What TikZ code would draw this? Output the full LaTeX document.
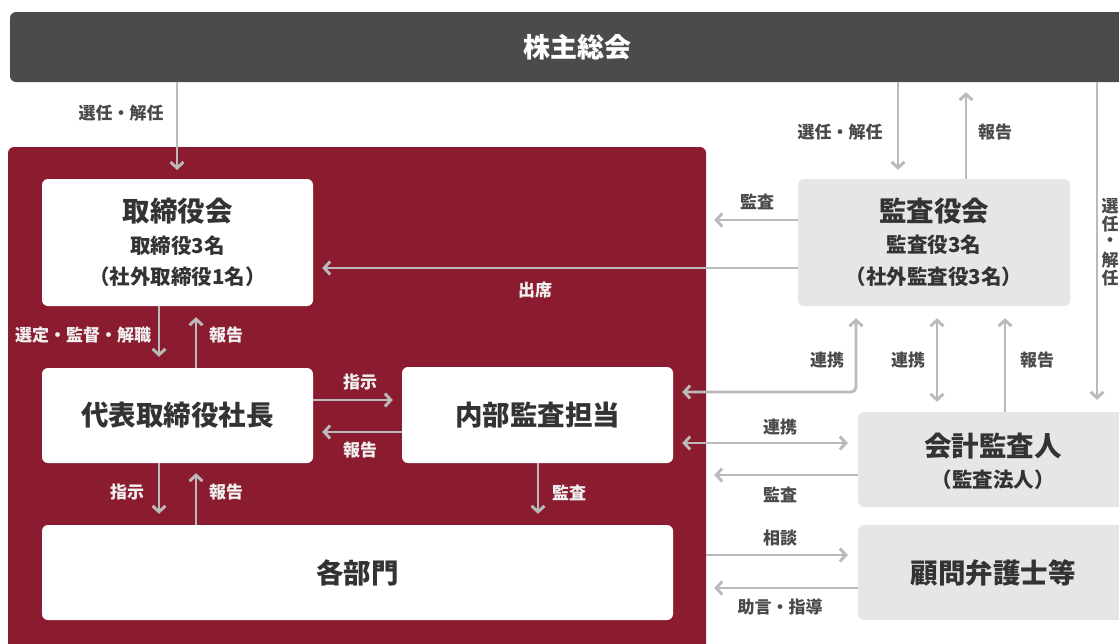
\documentclass[tikz,border=0pt]{standalone}
\usepackage{fontspec}
\setmainfont{Noto Sans CJK JP}
\usetikzlibrary{arrows.meta,calc}
\definecolor{panelred}{HTML}{8B1C30}
\definecolor{bardark}{HTML}{4B4B4B}
\definecolor{boxgray}{HTML}{E6E6E6}
\definecolor{arrowgray}{HTML}{BABABA}
\definecolor{txtdark}{HTML}{333333}
\definecolor{lbldark}{HTML}{4A4A4A}
\newcommand\dgTitle{\fontsize{27.5}{31}\selectfont\bfseries}
\newcommand\dgSub{\fontsize{20.5}{24}\selectfont\bfseries}
\newcommand\dgLbl{\fontsize{17}{20}\selectfont\bfseries}
\begin{document}
\begin{tikzpicture}[x=1pt,y=-1pt,
  whitebox/.style={draw=none,fill=white,rounded corners=6pt,inner sep=0pt,text=txtdark,font=\dgTitle},
  graybox/.style={draw=none,fill=boxgray,rounded corners=6pt,inner sep=0pt,text=txtdark,font=\dgTitle},
  subtxt/.style={inner sep=0pt,text=txtdark,font=\dgSub},
  ttltxt/.style={inner sep=0pt,text=txtdark,font=\dgTitle},
  lbl/.style={inner sep=0pt,text=lbldark,font=\dgLbl},
  wlbl/.style={inner sep=0pt,text=white!94!black,font=\dgLbl},
  arr/.style={draw=arrowgray,line width=2.9pt,-{Straight Barb[length=6pt,width=13pt,line width=2.9pt]}},
  darr/.style={draw=arrowgray,line width=2.9pt,{Straight Barb[length=6pt,width=13pt,line width=2.9pt]}-{Straight Barb[length=6pt,width=13pt,line width=2.9pt]}},
]
\useasboundingbox (0,0) rectangle (1119,643);
\clip (0,0) rectangle (1119,643);
\fill[white] (0,0) rectangle (1119,643);

% top bar
\node[fill=bardark,rounded corners=6pt,inner sep=0pt,minimum width=1134pt,minimum height=70pt,text=white,font=\fontsize{27}{30}\selectfont\bfseries] (bar) at (577,47) {株主総会};

% red panel
\node[fill=panelred,rounded corners=6pt,inner sep=0pt,minimum width=698pt,minimum height=533pt] (panel) at (357,413.5) {};

% boxes
\node[whitebox,minimum width=271pt,minimum height=127pt] (board) at (177.5,242.5) {};
\node[ttltxt] (boardT) at (177.5,211) {取締役会};
\node[subtxt] (boardS1) at (177.5,246) {取締役3名};
\node[subtxt] (boardS2) at (177.5,277) {（社外取締役1名）};

\node[whitebox,minimum width=271pt,minimum height=95pt] (ceo) at (177.5,415.5) {代表取締役社長};
\node[whitebox,minimum width=271pt,minimum height=96pt] (audit) at (537.5,415) {内部監査担当};
\node[whitebox,minimum width=631pt,minimum height=95pt] (depts) at (357.5,572.5) {各部門};

\node[graybox,minimum width=272pt,minimum height=127pt] (kansa) at (934,242.5) {};
\node[ttltxt] (kansaT) at (934,211) {監査役会};
\node[subtxt] (kansaS1) at (934,245) {監査役3名};
\node[subtxt] (kansaS2) at (934,277) {（社外監査役3名）};

\node[graybox,minimum width=270pt,minimum height=95pt] (kaikei) at (993,459.5) {};
\node[ttltxt] (kaikeiT) at (993,446) {会計監査人};
\node[subtxt] (kaikeiS) at (993,480) {（監査法人）};

\node[graybox,minimum width=270pt,minimum height=95pt] (komon) at (993,572.5) {顧問弁護士等};

% named coordinates
\coordinate (t1) at (177,170);
\coordinate (k1) at ([xshift=-36pt,yshift=9pt]kansa.north);
\coordinate (k2) at ([xshift=32pt]kansa.north);
\coordinate (k3) at (1097,0);

% arrows from / to the general meeting
\draw[arr] (bar.south -| t1) -- (t1);
\draw[arr] (bar.south -| k1) -- (k1);
\draw[arr] (k2) -- ($(bar.south -| k2)+(0,10)$);
\draw[arr] (bar.south -| k3) -- ($(kaikei.north -| k3)+(0,-12)$);

% kansa to the left
\draw[arr] ($(kansa.west)+(0,-22.5)$) coordinate (s5) -- ($(panel.east |- s5)+(8,0)$);
\draw[arr] ($(kansa.west)+(0,25.5)$) coordinate (s6) -- ($(board.east |- s6)+(9,0)$);

% board <-> ceo
\draw[arr] ([xshift=-18.5pt]board.south) -- ([xshift=-18.5pt,yshift=11pt]ceo.north);
\draw[arr] ([xshift=18.5pt]ceo.north) -- ([xshift=18.5pt,yshift=-11pt]board.south);

% ceo <-> audit
\draw[arr] ([yshift=15.5pt]ceo.east) -- ([xshift=-9pt,yshift=15pt]audit.west);
\draw[arr] ([yshift=-17pt]audit.west) -- ([xshift=9pt,yshift=-16.5pt]ceo.east);

% ceo <-> depts, audit -> depts
\draw[arr] ([xshift=-18.5pt]ceo.south) -- ([xshift=-198.5pt,yshift=11pt]depts.north);
\draw[arr] ([xshift=-161.5pt]depts.north) -- ([xshift=18.5pt,yshift=-10pt]ceo.south);
\draw[arr] ([xshift=0.5pt]audit.south) -- ([xshift=180.5pt,yshift=11pt]depts.north);

% cooperation links
\draw[darr,rounded corners=5pt] ([xshift=9pt,yshift=23pt]audit.east) -| ([xshift=-78pt,yshift=-12pt]kansa.south);
\draw[darr] ([xshift=3pt,yshift=-12pt]kansa.south) -- ([xshift=-56pt,yshift=10pt]kaikei.north);
\draw[arr] ([xshift=12pt]kaikei.north) -- ([xshift=71pt,yshift=-12pt]kansa.south);
\draw[darr] ([xshift=9pt,yshift=-28pt]audit.east) -- ([xshift=-10pt,yshift=16.5pt]kaikei.west);
\draw[arr] ([yshift=-15.5pt]kaikei.west) coordinate (s18) -- ($(panel.east |- s18)+(8,0)$);
\coordinate (c19) at ([xshift=-10pt,yshift=17.5pt]komon.west);
\draw[arr] (panel.east |- c19) -- (c19);
\draw[arr] ([yshift=-15.5pt]komon.west) coordinate (s20) -- ($(panel.east |- s20)+(8,0)$);

% labels
\node[lbl] (l1) at (121,113) {選任・解任};
\node[lbl] (l2) at (840,132) {選任・解任};
\node[lbl] (l3) at (995,132) {報告};
\node[lbl] (l4) at (757,202) {監査};
\node[wlbl] (l5) at (535,290) {出席};
\node[wlbl] (l6) at (83,335) {選定・監督・解職};
\node[wlbl] (l7) at (226,335) {報告};
\node[wlbl] (l8) at (360,382) {指示};
\node[wlbl] (l9) at (360,450) {報告};
\node[wlbl] (l10) at (127,492) {指示};
\node[wlbl] (l11) at (226,492) {報告};
\node[wlbl] (l12) at (569,493) {監査};
\node[lbl] (l13) at (827,360) {連携};
\node[lbl] (l14) at (908,360) {連携};
\node[lbl] (l15) at (1037,360) {報告};
\node[lbl] (l16) at (780,427) {連携};
\node[lbl] (l17) at (780,495) {監査};
\node[lbl] (l18) at (780,538) {相談};
\node[lbl] (l19) at (780,607) {助言・指導};
% vertical label at the right edge
\node[lbl] (v1) at (1110,206) {選};
\node[lbl] (v2) at (1110,224) {任};
\node[lbl] (v3) at (1110,242) {・};
\node[lbl] (v4) at (1110,260) {解};
\node[lbl] (v5) at (1110,278) {任};
\end{tikzpicture}
\end{document}
